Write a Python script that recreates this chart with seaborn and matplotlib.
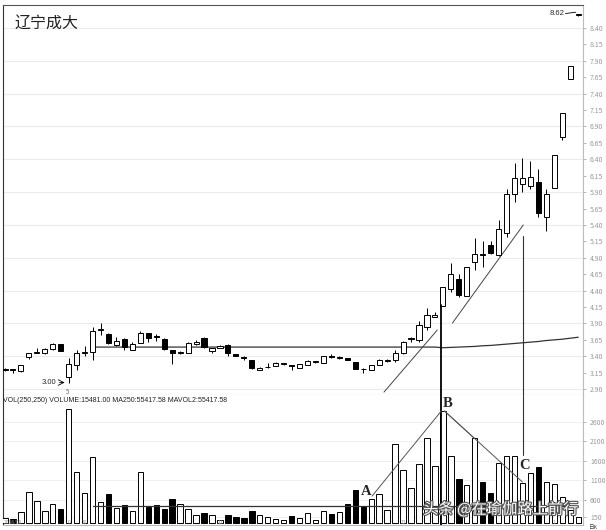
import numpy as np
import pandas as pd
import matplotlib
matplotlib.use("Agg")
import matplotlib.pyplot as plt
import matplotlib.patheffects as pe
import seaborn as sns

# daily candles (open, close, high, low)
opens = [3.19, 3.21, 3.17, 3.39, 3.45, 3.45, 3.51, 3.59, 3.08, 3.27,
         3.45, 3.46, 3.80, 3.74, 3.57, 3.66, 3.50, 3.60, 3.75, 3.69,
         3.66, 3.50, 3.45, 3.45, 3.59, 3.68, 3.48, 3.52, 3.57, 3.43,
         3.38, 3.34, 3.19, 3.23, 3.25, 3.28, 3.26, 3.22, 3.27, 3.31,
         3.30, 3.39, 3.37, 3.37, 3.31, 3.20, 3.19, 3.27, 3.33, 3.34,
         3.45, 3.66, 3.65, 3.85, 4.00, 4.16, 4.42, 4.58, 4.32, 4.84,
         4.94, 5.09, 4.94, 5.28, 5.87, 6.02, 6.00, 6.06, 5.52, 5.96,
         6.74, 7.63, 8.60]
closes = [3.21, 3.19, 3.27, 3.45, 3.46, 3.51, 3.59, 3.48, 3.28, 3.45,
          3.47, 3.78, 3.81, 3.60, 3.63, 3.54, 3.58, 3.75, 3.68, 3.69,
          3.51, 3.45, 3.45, 3.60, 3.61, 3.54, 3.52, 3.55, 3.45, 3.40,
          3.37, 3.22, 3.22, 3.24, 3.30, 3.28, 3.25, 3.28, 3.33, 3.31,
          3.40, 3.39, 3.38, 3.34, 3.20, 3.20, 3.27, 3.34, 3.34, 3.45,
          3.62, 3.66, 3.88, 4.03, 4.03, 4.46, 4.65, 4.33, 4.76, 4.96,
          4.95, 4.98, 5.34, 5.87, 6.12, 6.12, 6.13, 5.58, 5.87, 6.47,
          7.11, 7.82, 8.62]
highs = [3.22, 3.21, 3.27, 3.45, 3.52, 3.52, 3.60, 3.59, 3.37, 3.50,
         3.55, 3.84, 3.90, 3.75, 3.70, 3.68, 3.61, 3.78, 3.75, 3.74,
         3.68, 3.50, 3.48, 3.62, 3.65, 3.70, 3.53, 3.57, 3.58, 3.44,
         3.41, 3.34, 3.23, 3.30, 3.31, 3.30, 3.27, 3.28, 3.34, 3.33,
         3.41, 3.43, 3.40, 3.37, 3.31, 3.22, 3.27, 3.36, 3.36, 3.50,
         3.64, 3.70, 3.93, 4.13, 4.08, 4.46, 4.82, 4.65, 4.76, 5.20,
         5.15, 5.15, 5.48, 5.95, 6.35, 6.42, 6.38, 6.25, 5.95, 6.47,
         7.11, 7.82, 8.62]
lows = [3.18, 3.15, 3.16, 3.36, 3.45, 3.44, 3.50, 3.48, 3.00, 3.19,
        3.40, 3.34, 3.72, 3.58, 3.56, 3.49, 3.49, 3.60, 3.61, 3.63,
        3.50, 3.28, 3.43, 3.45, 3.57, 3.52, 3.45, 3.52, 3.40, 3.40,
        3.35, 3.21, 3.19, 3.22, 3.25, 3.27, 3.19, 3.22, 3.27, 3.30,
        3.30, 3.38, 3.36, 3.34, 3.20, 3.15, 3.19, 3.27, 3.32, 3.31,
        3.44, 3.62, 3.62, 3.80, 4.00, 4.16, 4.38, 4.30, 4.32, 4.72,
        4.76, 4.95, 4.92, 5.22, 5.75, 5.90, 5.95, 5.52, 5.31, 5.96,
        6.70, 7.63, 8.58]
# 1 = rising (hollow), 0 = falling (solid)
rising = [1, 0, 1, 1, 1, 1, 1, 0, 1, 1,
          1, 1, 1, 0, 1, 0, 1, 1, 0, 0,
          0, 0, 1, 1, 1, 0, 1, 1, 0, 0,
          0, 0, 1, 1, 1, 1, 0, 1, 1, 1,
          1, 0, 1, 0, 0, 0, 1, 1, 1, 1,
          1, 1, 1, 1, 1, 1, 1, 0, 1, 1,
          0, 0, 1, 1, 1, 1, 1, 0, 1, 1,
          1, 1, 1]
volumes = [128, 95, 280, 800, 560, 300, 490, 360, 2920, 1310,
           760, 1690, 540, 740, 390, 460, 310, 1310, 410, 460,
           360, 610, 490, 360, 200, 260, 200, 80, 200, 160,
           120, 300, 200, 150, 110, 80, 180, 120, 250, 80,
           300, 230, 280, 490, 850, 440, 610, 740, 330, 2030,
           1360, 900, 1510, 2180, 1460, 2870, 1720, 1120, 970, 2180,
           1050, 770, 1540, 1720, 1720, 1020, 1280, 1440, 1050, 1000,
           670, 330, 150]
ma250 = [None] * 11 + [3.54] * 44 + [3.53, 3.535, 3.54, 3.545, 3.55, 3.56,
                                     3.565, 3.575, 3.585, 3.595, 3.605, 3.615,
                                     3.625, 3.64, 3.65, 3.66, 3.675, 3.69]
mavol = [None] * 11 + [430] * 62

price_ticks = [2.90, 3.15, 3.40, 3.65, 3.90, 4.15, 4.40, 4.65, 4.90, 5.15, 5.40, 5.65,
               5.90, 6.15, 6.40, 6.65, 6.90, 7.15, 7.40, 7.65, 7.90, 8.15, 8.40]
vol_ticks = [150, 600, 1100, 1600, 2100, 2600]

n = len(opens)
df = pd.DataFrame({"day": np.arange(n), "open": opens, "close": closes,
                   "high": highs, "low": lows, "rising": rising,
                   "volume": volumes, "ma250": ma250, "mavol": mavol})
df["ma250"] = df["ma250"].astype(float)
df["mavol"] = df["mavol"].astype(float)

sns.set_style("white")
plt.rcParams['font.family'] = ['Noto Sans CJK SC', 'DejaVu Sans']

W, H = 606, 530
fig = plt.figure(figsize=(W / 100, H / 100), dpi=100)
ax = fig.add_axes([3 / W, 1 - 395 / H, 580 / W, 390 / H])
axv = fig.add_axes([3 / W, 1 - 525 / H, 580 / W, 130 / H])

xlim = (-0.25, 72.6)
fills = ['white' if r else 'black' for r in df["rising"]]

# price panel
ax.vlines(df["day"], df["low"], df["high"], color='black', lw=0.7, zorder=2)
body = (df["close"] - df["open"]).abs().clip(lower=0.012)
ax.bar(df["day"], body, bottom=df[["open", "close"]].min(axis=1), width=0.64,
       color=fills, edgecolor='black', linewidth=0.7, zorder=3)
sns.lineplot(data=df, x="day", y="ma250", ax=ax, color='#333333', lw=0.9, zorder=1)

ax.set_xlim(*xlim)
ax.set_ylim(2.81, 8.75)
ax.set_yticks(price_ticks)
ax.set_yticklabels([f"{t:.2f}" for t in price_ticks])
for g in price_ticks[::2]:
    ax.axhline(g, color='#ececec', lw=0.8, zorder=0)

# trend lines and markers
ax.plot([47.6, 54.3], [2.854, 3.80], color='#444444', lw=0.7)
ax.plot([56.2, 65.1], [3.906, 5.40], color='#444444', lw=0.7)
ax.plot([54.8, 54.8], [4.18, 2.81], color='black', lw=1.3, zorder=4)
ax.plot([65.1, 65.1], [5.23, 2.81], color='#333333', lw=0.8, zorder=4)

ax.text(0.02, 0.975, "辽宁成大", transform=ax.transAxes, fontsize=11.5,
        va='top', ha='left', color='#222222')
ax.annotate("", xy=(7.85, 3.00), xytext=(6.5, 3.00),
            arrowprops=dict(arrowstyle='->', lw=0.6, color='black'))
ax.text(6.4, 3.00, "3.00", fontsize=5.5, ha='right', va='center', family='Liberation Sans')
ax.text(7.9, 2.86, "5", fontsize=4.5, ha='center', va='center', color='#666666')
ax.text(70.3, 8.62, "8.62", fontsize=5.5, ha='right', va='center', family='Liberation Sans')
ax.plot([70.4, 71.7], [8.62, 8.64], color='black', lw=0.6)

# volume panel
axv.bar(df["day"], df["volume"], width=0.68, color=fills, edgecolor='black',
        linewidth=0.7, zorder=3)
sns.lineplot(data=df, x="day", y="mavol", ax=axv, color='#333333', lw=0.9, zorder=4)
axv.set_xlim(*xlim)
axv.set_ylim(-50, 3280)
axv.set_yticks(vol_ticks)
axv.set_yticklabels([str(t) for t in vol_ticks])
for g in vol_ticks:
    axv.axhline(g, color='#f0f0f0', lw=0.8, zorder=0)

axv.plot([54.8, 54.8], [3280, -50], color='black', lw=1.3, zorder=5)
axv.plot([65.1, 65.1], [3280, 1740], color='#333333', lw=0.8, zorder=5)
axv.plot([46.1, 54.8], [690, 2870], color='#555555', lw=0.7, zorder=5)
axv.plot([55.2, 58.9], [2870, 2180], color='#555555', lw=0.7, zorder=5)
axv.plot([55.2, 65.0], [2870, 1050], color='#555555', lw=0.7, zorder=5)

letter = dict(fontsize=10.5, family='Liberation Serif', fontweight='bold',
              ha='center', va='center', zorder=6)
axv.text(45.4, 820, "A", **letter)
axv.text(55.6, 3060, "B", **letter)
axv.text(65.3, 1480, "C", **letter)

axv.text(0.0, 0.985, "VOL(250,250) VOLUME:15481.00 MA250:55417.58 MAVOL2:55417.58",
         transform=axv.transAxes, fontsize=5, va='top', ha='left',
         family='Liberation Sans', color='#222222')
axv.text(72.0, 350, "头条 @在瑜伽路上前行", fontsize=11, ha='right', va='center',
         color='white', zorder=7,
         path_effects=[pe.withStroke(linewidth=1.6, foreground='#555555')])

for lab, xd in [("2008/08", 1.0), ("9", 8.0), ("10", 10.0), ("11", 27.0),
                ("12", 50.0), ("1", 69.0)]:
    axv.text(xd, -45, lab, fontsize=3.5, ha='center', va='bottom', color='#999999')
fig.text(588 / W, 1 - 527.5 / H, "日K", fontsize=4, ha='left', va='center', color='#444444')

for a in (ax, axv):
    a.yaxis.tick_right()
    a.tick_params(axis='y', labelsize=5, colors='#999999', length=2, pad=3, width=0.5)
    a.set_xticks([])
    a.set_xlabel("")
    a.set_ylabel("")
    for s in a.spines.values():
        s.set_linewidth(0.8)
    a.spines['left'].set_color('#333333')
    a.spines['right'].set_color('#bbbbbb')
    a.spines['top'].set_color('#555555')
    a.spines['bottom'].set_color('#bbbbbb')
axv.spines['top'].set_visible(False)

fig.savefig("out.png", dpi=100)
